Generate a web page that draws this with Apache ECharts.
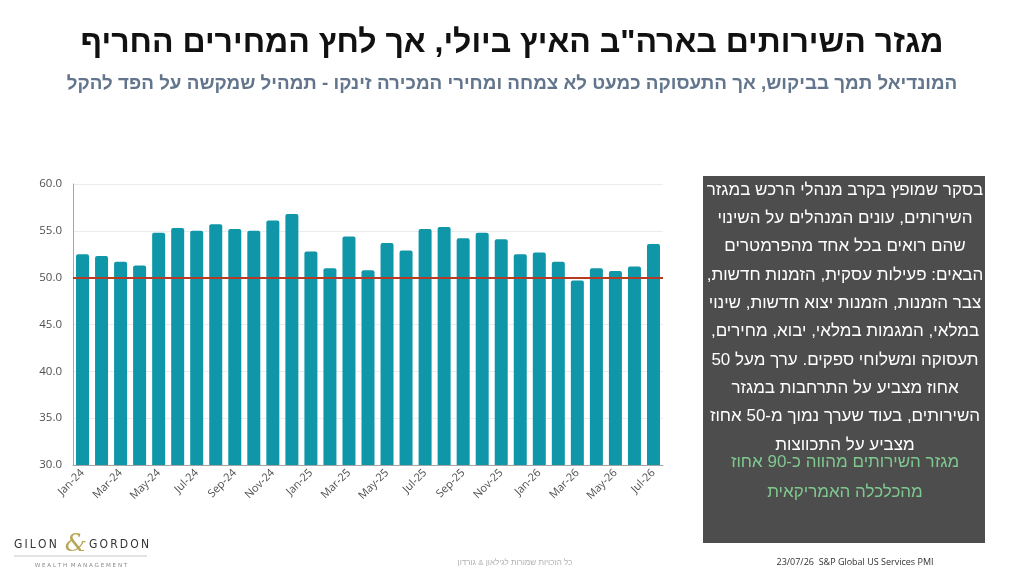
<!DOCTYPE html>
<html>
<head>
<meta charset="utf-8">
<script src="https://cdn.jsdelivr.net/npm/echarts@6/dist/echarts.min.js"></script>
<style>
html, body { margin: 0; padding: 0; background: #fff; }
#container { width: 1024px; height: 576px; }
</style>
</head>
<body>
<div id="container"></div>
<script>
// months on the x axis
var months = ['Jan-24','Feb-24','Mar-24','Apr-24','May-24','Jun-24','Jul-24','Aug-24','Sep-24','Oct-24','Nov-24','Dec-24',
              'Jan-25','Feb-25','Mar-25','Apr-25','May-25','Jun-25','Jul-25','Aug-25','Sep-25','Oct-25','Nov-25','Dec-25',
              'Jan-26','Feb-26','Mar-26','Apr-26','May-26','Jun-26','Jul-26'];
// S&P Global US Services PMI
var pmi = [52.5, 52.3, 51.7, 51.3, 54.8, 55.3, 55.0, 55.7, 55.2, 55.0, 56.1, 56.8,
           52.8, 51.0, 54.4, 50.8, 53.7, 52.9, 55.2, 55.4, 54.2, 54.8, 54.1, 52.5,
           52.7, 51.7, 49.7, 51.0, 50.7, 51.2, 53.6];
var threshold = 50;

var titleText = 'מגזר השירותים בארה"ב האיץ ביולי, אך לחץ המחירים החריף';
var subText = 'המונדיאל תמך בביקוש, אך התעסוקה כמעט לא צמחה ומחירי המכירה זינקו - תמהיל שמקשה על הפד להקל';
var boxLines = [
    'בסקר שמופץ בקרב מנהלי הרכש במגזר',
    'השירותים, עונים המנהלים על השינוי',
    'שהם רואים בכל אחד מהפרמטרים',
    'הבאים: פעילות עסקית, הזמנות חדשות,',
    'צבר הזמנות, הזמנות יצוא חדשות, שינוי',
    'במלאי, המגמות במלאי, יבוא, מחירים,',
    'תעסוקה ומשלוחי ספקים. ערך מעל 50',
    'אחוז מצביע על התרחבות במגזר',
    'השירותים, בעוד שערך נמוך מ-50 אחוז',
    'מצביע על התכווצות'
];
var greenLines = [
    'מגזר השירותים מהווה כ-90 אחוז',
    'מהכלכלה האמריקאית'
];
var copyright = 'כל הזכויות שמורות לגילאון & גורדון';
var source = '23/07/26  S&P Global US Services PMI';

// right-to-left embedding for hebrew lines
function rtl(s) { return '\u202B' + s + '\u202C'; }
function rtlLines(arr) { return arr.map(rtl).join('\n'); }

var heFont = '"Liberation Sans", "DejaVu Sans", sans-serif';

var myChart = echarts.init(document.getElementById('container'));
var option = {
    backgroundColor: '#ffffff',
    animation: false,
    title: [
        {
            text: rtl(titleText),
            left: 'center',
            top: 22,
            textStyle: { fontFamily: '"Liberation Sans", sans-serif', fontWeight: 'bold', fontSize: 32, color: '#111111' }
        },
        {
            text: rtl(subText),
            left: 'center',
            top: 69,
            textStyle: { fontFamily: '"Liberation Sans", sans-serif', fontWeight: 'bold', fontSize: 18.8, color: '#62758c' }
        }
    ],
    grid: { left: 73, right: 361, top: 184, bottom: 111 },
    xAxis: {
        type: 'category',
        data: months,
        axisLine: { lineStyle: { color: '#a6a6a6', width: 1 } },
        axisTick: { show: false },
        axisLabel: { rotate: 45, interval: 1, color: '#505050', fontSize: 11, fontFamily: '"Open Sans", sans-serif', margin: 6 }
    },
    yAxis: {
        type: 'value',
        min: 30,
        max: 60,
        interval: 5,
        axisLine: { show: true, lineStyle: { color: '#a6a6a6', width: 1 } },
        axisTick: { show: false },
        splitLine: { lineStyle: { color: '#ececec' } },
        axisLabel: {
            color: '#505050', fontSize: 11.5, fontFamily: '"Open Sans", sans-serif', margin: 11,
            formatter: function (v) { return v.toFixed(1); }
        }
    },
    series: [
        {
            type: 'bar',
            data: pmi,
            barWidth: 13,
            itemStyle: { color: '#0f97a9', borderRadius: [2, 2, 0, 0] },
            markLine: {
                silent: true,
                symbol: 'none',
                label: { show: false },
                lineStyle: { color: '#b83a22', width: 2, type: 'solid' },
                data: [{ yAxis: threshold }]
            }
        }
    ],
    graphic: [
        {
            type: 'rect',
            shape: { x: 703, y: 176, width: 282, height: 367 },
            style: { fill: '#4d4d4d' }
        },
        {
            type: 'text',
            x: 845, y: 176,
            style: {
                text: rtlLines(boxLines),
                fill: '#ffffff',
                font: '17px ' + heFont,
                lineHeight: 28.3,
                align: 'center',
                verticalAlign: 'top'
            }
        },
        {
            type: 'text',
            x: 845, y: 447,
            style: {
                text: rtlLines(greenLines),
                fill: '#7fc98f',
                font: '17px ' + heFont,
                lineHeight: 30,
                align: 'center',
                verticalAlign: 'top'
            }
        },
        // logo
        {
            type: 'text',
            x: 14, y: 545,
            style: { text: 'G\u2009I\u2009L\u2009O\u2009N', fill: '#333333', font: '12px "DejaVu Sans Condensed", sans-serif', verticalAlign: 'middle', align: 'left' }
        },
        {
            type: 'text',
            x: 76, y: 544,
            style: { text: '&', fill: '#b9a553', font: 'italic 25px "DejaVu Serif", serif', verticalAlign: 'middle', align: 'center' }
        },
        {
            type: 'text',
            x: 89, y: 545,
            style: { text: 'G\u2009O\u2009R\u2009D\u2009O\u2009N', fill: '#333333', font: '12px "DejaVu Sans Condensed", sans-serif', verticalAlign: 'middle', align: 'left' }
        },
        {
            type: 'line',
            shape: { x1: 14, y1: 556, x2: 147, y2: 556 },
            style: { stroke: '#c8c8c8', lineWidth: 1 }
        },
        {
            type: 'text',
            x: 81, y: 566,
            style: { text: 'W E A L T H  M A N A G E M E N T', fill: '#8a8a8a', font: '5.6px "DejaVu Sans", sans-serif', verticalAlign: 'middle', align: 'center' }
        },
        // footer
        {
            type: 'text',
            x: 515, y: 563,
            style: { text: rtl(copyright), fill: '#b0b0b0', font: '8px ' + heFont, verticalAlign: 'middle', align: 'center' }
        },
        {
            type: 'text',
            x: 855, y: 562,
            style: { text: source, fill: '#333333', font: '9px "Open Sans", sans-serif', verticalAlign: 'middle', align: 'center' }
        }
    ]
};
myChart.setOption(option);
</script>
</body>
</html>
